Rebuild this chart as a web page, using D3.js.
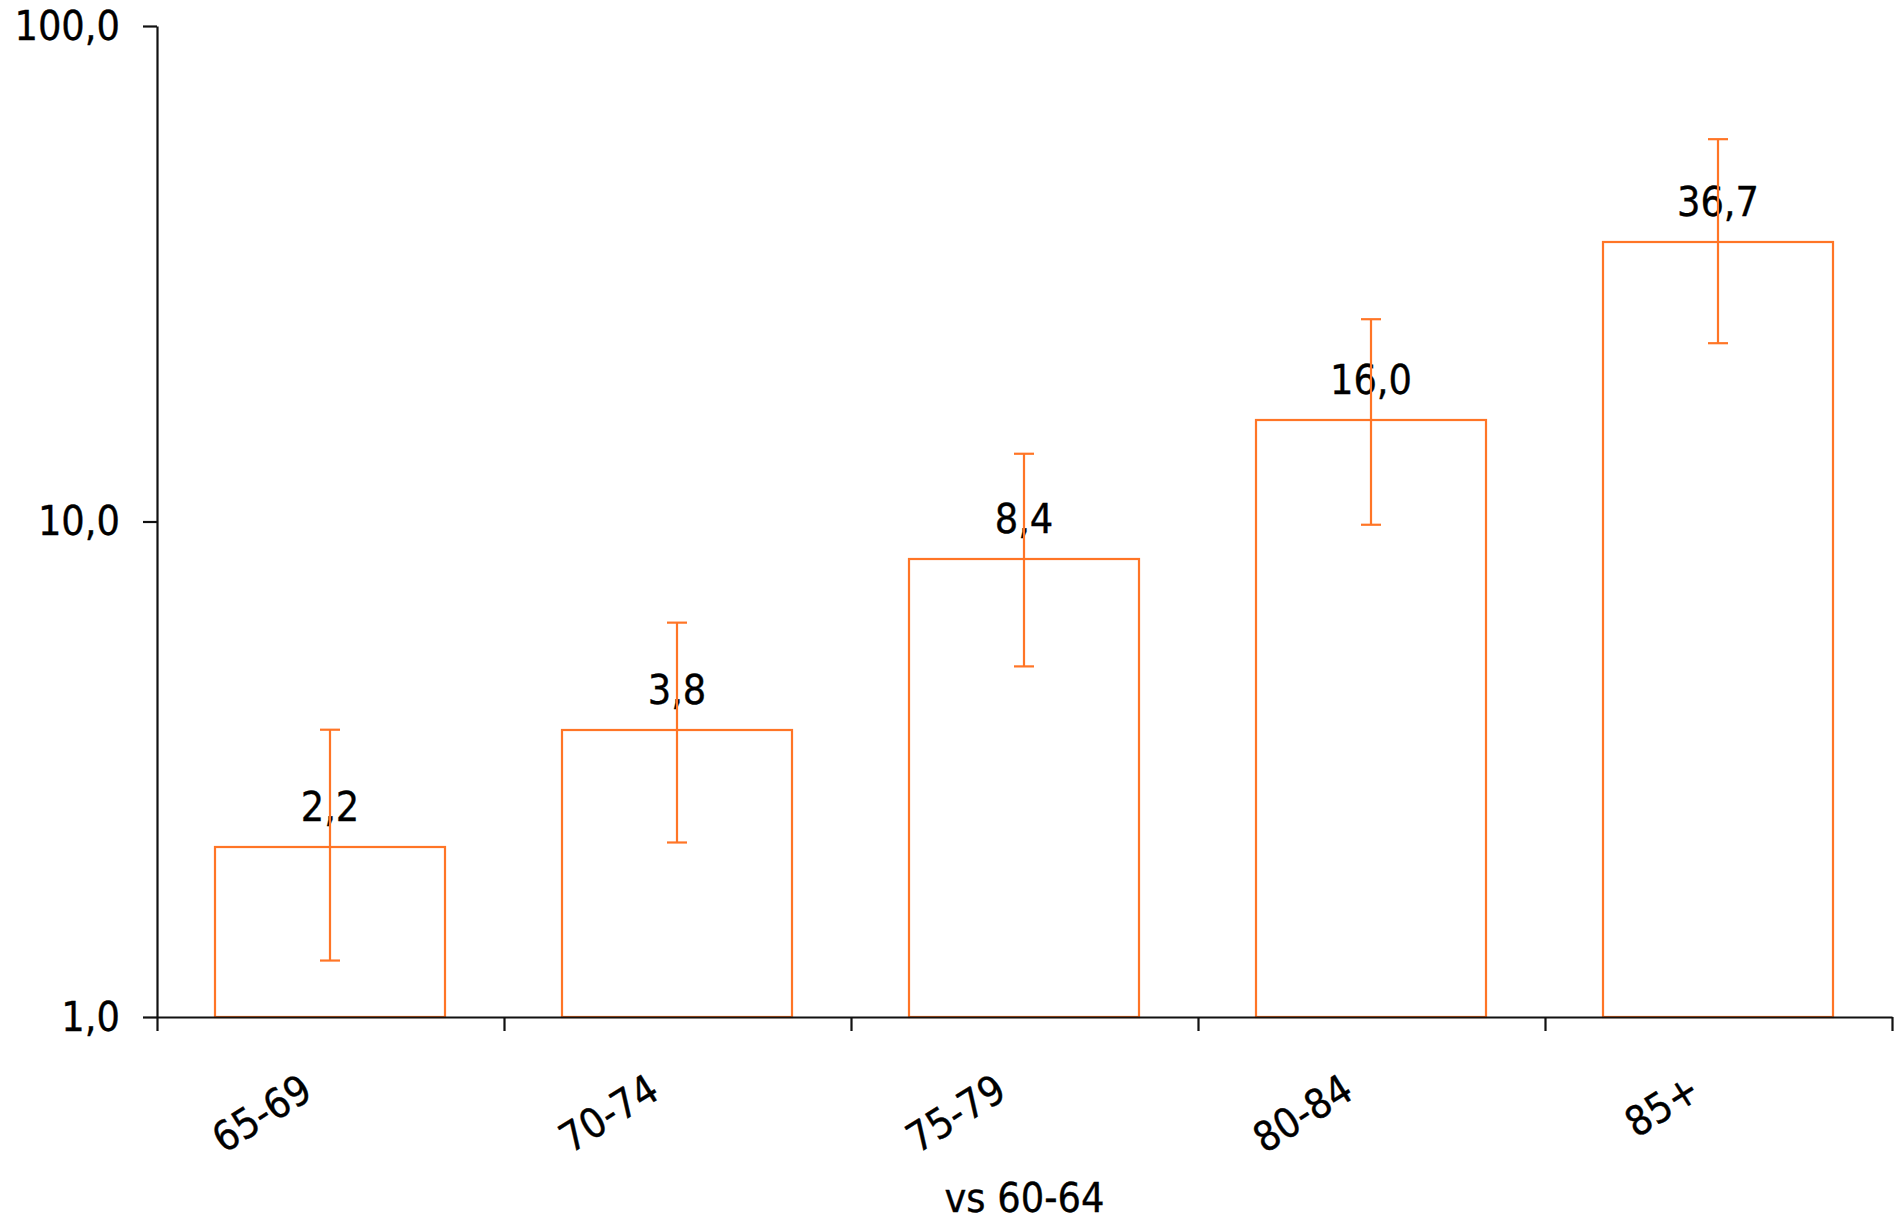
<!DOCTYPE html>
<html>
<head>
<meta charset="utf-8">
<script src="https://cdn.jsdelivr.net/npm/d3@7"></script>
<style>
  html, body { margin: 0; padding: 0; background: #fff; }
  svg { display: block; }
  text { font-family: "DejaVu Sans Condensed", "DejaVu Sans", sans-serif; fill: #000; stroke: #000; stroke-width: 0.35px; }
</style>
</head>
<body>
<script>
const categories = ["65-69", "70-74", "75-79", "80-84", "85+"];
const values = [2.2, 3.8, 8.4, 16.0, 36.7];
const upper = [3.8, 6.25, 13.7, 25.6, 59.1];
const lower = [1.3, 2.25, 5.1, 9.85, 22.9];
const yTicks = [1, 10, 100];
const xTitle = "vs 60-64";

const W = 1898, H = 1226;
const plotLeft = 157, plotRight = 1892, plotTop = 26, plotBottom = 1017;
const orange = "#ff7526";
const axisColor = "#111";
const fontSize = 41;

const locale = d3.formatLocale({ decimal: ",", thousands: ".", grouping: [3], currency: ["", ""] });
const fmt = locale.format(".1f");

const svg = d3.select("body").append("svg").attr("width", W).attr("height", H);

const x = d3.scaleBand().domain(categories).range([plotLeft, plotRight]).padding(0);
const y = d3.scaleLog().domain([1, 100]).range([plotBottom, plotTop]);
const xIdx = d3.scaleLinear().domain([0, categories.length]).range([plotLeft, plotRight]);

const barW = Math.round(x.bandwidth() * 0.663);
const cx = d => Math.round(x(d) + x.bandwidth() / 2) - 1;

// Bars
svg.append("g").selectAll("rect").data(categories).join("rect")
  .attr("x", d => cx(d) - barW / 2)
  .attr("y", (d, i) => Math.round(y(values[i])))
  .attr("width", barW)
  .attr("height", (d, i) => y(1) - Math.round(y(values[i])))
  .attr("fill", "none")
  .attr("stroke", orange)
  .attr("stroke-width", 2.2);

// Value labels
svg.append("g").selectAll("text").data(categories).join("text")
  .attr("x", d => cx(d))
  .attr("y", (d, i) => y(values[i]) - 26)
  .attr("text-anchor", "middle")
  .attr("font-size", fontSize)
  .text((d, i) => fmt(values[i]));

// Error bars
const eb = svg.append("g").attr("stroke", orange).attr("stroke-width", 2.2);
categories.forEach((d, i) => {
  const c = cx(d);
  eb.append("line").attr("x1", c).attr("x2", c).attr("y1", y(upper[i])).attr("y2", y(lower[i]));
  eb.append("line").attr("x1", c - 10).attr("x2", c + 10).attr("y1", y(upper[i])).attr("y2", y(upper[i]));
  eb.append("line").attr("x1", c - 10).attr("x2", c + 10).attr("y1", y(lower[i])).attr("y2", y(lower[i]));
});

// Y axis
const yAxis = svg.append("g").attr("transform", `translate(${plotLeft},0)`)
  .call(d3.axisLeft(y).tickValues(yTicks).tickSize(14).tickSizeOuter(0).tickPadding(23).tickFormat(d => fmt(d)));
yAxis.selectAll("path, line").attr("stroke", axisColor).attr("stroke-width", 2.2);
yAxis.selectAll("text").attr("font-size", fontSize).attr("fill", "#000");
yAxis.attr("font-family", null);

// X axis (boundary ticks)
const xAxis = svg.append("g").attr("transform", `translate(0,${plotBottom})`)
  .call(d3.axisBottom(xIdx).tickValues(d3.range(categories.length + 1)).tickSize(14).tickSizeOuter(0).tickFormat(""));
xAxis.selectAll("path, line").attr("stroke", axisColor).attr("stroke-width", 2.2);

// Category labels (rotated)
svg.append("g").selectAll("text").data(categories).join("text")
  .attr("transform", d => `translate(${cx(d) - 23},1085) rotate(-32)`)
  .attr("text-anchor", "end")
  .attr("dy", "0.35em")
  .attr("font-size", fontSize)
  .text(d => d);

// X title
svg.append("text")
  .attr("x", (plotLeft + plotRight) / 2)
  .attr("y", 1212)
  .attr("text-anchor", "middle")
  .attr("font-size", fontSize)
  .text(xTitle);
</script>
</body>
</html>
